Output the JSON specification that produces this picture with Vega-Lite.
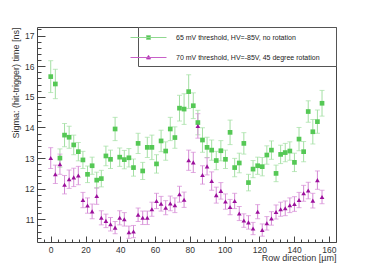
{
  "$schema": "https://vega.github.io/schema/vega-lite/v6.json",
  "width": 299,
  "height": 215,
  "autosize": "none",
  "padding": {"left": 37, "top": 27, "right": 38, "bottom": 27},
  "background": "white",
  "config": {"view": {"stroke": "#444", "strokeWidth": 1}, "font": "Liberation Sans"},
  "data": {"values": [
      {"s": "A", "x": 0, "y": 15.66, "e": 0.52}, {"s": "A", "x": 2.65, "y": 15.42, "e": 0.48}, {"s": "A", "x": 5.29, "y": 13.0, "e": 0.3},
      {"s": "A", "x": 7.94, "y": 13.75, "e": 0.38}, {"s": "A", "x": 10.58, "y": 13.68, "e": 0.36}, {"s": "A", "x": 13.23, "y": 13.43, "e": 0.32},
      {"s": "A", "x": 15.87, "y": 13.21, "e": 0.3}, {"s": "A", "x": 18.52, "y": 12.94, "e": 0.28}, {"s": "A", "x": 21.16, "y": 12.47, "e": 0.27},
      {"s": "A", "x": 23.81, "y": 12.75, "e": 0.28}, {"s": "A", "x": 26.45, "y": 12.28, "e": 0.26}, {"s": "A", "x": 29.1, "y": 12.33, "e": 0.27},
      {"s": "A", "x": 31.74, "y": 13.07, "e": 0.32}, {"s": "A", "x": 34.39, "y": 12.96, "e": 0.3}, {"s": "A", "x": 37.03, "y": 13.95, "e": 0.38},
      {"s": "A", "x": 39.68, "y": 13.03, "e": 0.3}, {"s": "A", "x": 42.32, "y": 12.95, "e": 0.3}, {"s": "A", "x": 44.97, "y": 13.01, "e": 0.3},
      {"s": "A", "x": 47.61, "y": 12.69, "e": 0.28}, {"s": "A", "x": 50.26, "y": 13.48, "e": 0.33}, {"s": "A", "x": 52.9, "y": 12.58, "e": 0.28},
      {"s": "A", "x": 55.55, "y": 13.35, "e": 0.33}, {"s": "A", "x": 58.19, "y": 13.35, "e": 0.4}, {"s": "A", "x": 60.84, "y": 12.81, "e": 0.3},
      {"s": "A", "x": 63.48, "y": 13.56, "e": 0.35}, {"s": "A", "x": 66.13, "y": 13.23, "e": 0.3}, {"s": "A", "x": 68.77, "y": 13.95, "e": 0.38},
      {"s": "A", "x": 71.42, "y": 13.67, "e": 0.35}, {"s": "A", "x": 74.06, "y": 14.63, "e": 0.42}, {"s": "A", "x": 76.71, "y": 14.6, "e": 0.5},
      {"s": "A", "x": 79.35, "y": 15.17, "e": 0.55}, {"s": "A", "x": 82.0, "y": 14.71, "e": 0.42}, {"s": "A", "x": 84.64, "y": 14.16, "e": 0.4},
      {"s": "A", "x": 87.29, "y": 13.59, "e": 0.4}, {"s": "A", "x": 89.93, "y": 13.35, "e": 0.33}, {"s": "A", "x": 92.58, "y": 13.26, "e": 0.33},
      {"s": "A", "x": 95.22, "y": 12.92, "e": 0.3}, {"s": "A", "x": 97.87, "y": 13.24, "e": 0.33}, {"s": "A", "x": 100.51, "y": 12.96, "e": 0.3},
      {"s": "A", "x": 103.16, "y": 13.84, "e": 0.4}, {"s": "A", "x": 105.8, "y": 12.69, "e": 0.3}, {"s": "A", "x": 108.45, "y": 12.84, "e": 0.32},
      {"s": "A", "x": 111.09, "y": 13.48, "e": 0.35}, {"s": "A", "x": 113.74, "y": 12.2, "e": 0.27}, {"s": "A", "x": 116.38, "y": 12.64, "e": 0.28},
      {"s": "A", "x": 119.03, "y": 12.75, "e": 0.28}, {"s": "A", "x": 121.67, "y": 12.72, "e": 0.3}, {"s": "A", "x": 124.32, "y": 13.1, "e": 0.3},
      {"s": "A", "x": 126.96, "y": 13.26, "e": 0.3}, {"s": "A", "x": 129.61, "y": 12.5, "e": 0.27}, {"s": "A", "x": 132.25, "y": 13.12, "e": 0.3},
      {"s": "A", "x": 134.9, "y": 13.18, "e": 0.3}, {"s": "A", "x": 137.54, "y": 13.23, "e": 0.3}, {"s": "A", "x": 140.19, "y": 12.86, "e": 0.3},
      {"s": "A", "x": 142.83, "y": 13.62, "e": 0.38}, {"s": "A", "x": 145.48, "y": 13.21, "e": 0.33}, {"s": "A", "x": 148.12, "y": 14.52, "e": 0.35},
      {"s": "A", "x": 150.77, "y": 13.86, "e": 0.4}, {"s": "A", "x": 153.41, "y": 14.19, "e": 0.38}, {"s": "A", "x": 156.06, "y": 14.79, "e": 0.42},
      {"s": "B", "x": 0, "y": 13.0, "e": 0.34}, {"s": "B", "x": 2.65, "y": 12.47, "e": 0.3}, {"s": "B", "x": 5.29, "y": 12.8, "e": 0.33},
      {"s": "B", "x": 7.94, "y": 12.13, "e": 0.3}, {"s": "B", "x": 10.58, "y": 12.31, "e": 0.3}, {"s": "B", "x": 13.23, "y": 12.37, "e": 0.3},
      {"s": "B", "x": 15.87, "y": 12.43, "e": 0.3}, {"s": "B", "x": 18.52, "y": 11.63, "e": 0.25}, {"s": "B", "x": 21.16, "y": 11.45, "e": 0.25},
      {"s": "B", "x": 23.81, "y": 11.26, "e": 0.24}, {"s": "B", "x": 26.45, "y": 11.76, "e": 0.27}, {"s": "B", "x": 29.1, "y": 11.05, "e": 0.23},
      {"s": "B", "x": 31.74, "y": 10.95, "e": 0.22}, {"s": "B", "x": 34.39, "y": 10.84, "e": 0.22}, {"s": "B", "x": 37.03, "y": 10.73, "e": 0.2},
      {"s": "B", "x": 39.68, "y": 11.05, "e": 0.23}, {"s": "B", "x": 42.32, "y": 11.0, "e": 0.22}, {"s": "B", "x": 44.97, "y": 10.58, "e": 0.2},
      {"s": "B", "x": 47.61, "y": 10.6, "e": 0.2}, {"s": "B", "x": 50.26, "y": 11.15, "e": 0.22}, {"s": "B", "x": 52.9, "y": 11.05, "e": 0.22},
      {"s": "B", "x": 55.55, "y": 11.05, "e": 0.22}, {"s": "B", "x": 58.19, "y": 11.33, "e": 0.23}, {"s": "B", "x": 60.84, "y": 11.6, "e": 0.25},
      {"s": "B", "x": 63.48, "y": 11.51, "e": 0.24}, {"s": "B", "x": 66.13, "y": 11.38, "e": 0.23}, {"s": "B", "x": 68.77, "y": 11.52, "e": 0.24},
      {"s": "B", "x": 71.42, "y": 11.46, "e": 0.24}, {"s": "B", "x": 74.06, "y": 11.82, "e": 0.26}, {"s": "B", "x": 76.71, "y": 11.64, "e": 0.25},
      {"s": "B", "x": 79.35, "y": 12.93, "e": 0.33}, {"s": "B", "x": 82.0, "y": 12.86, "e": 0.33}, {"s": "B", "x": 84.64, "y": 14.05, "e": 0.4},
      {"s": "B", "x": 87.29, "y": 12.45, "e": 0.3}, {"s": "B", "x": 89.93, "y": 12.73, "e": 0.28}, {"s": "B", "x": 92.58, "y": 12.25, "e": 0.3},
      {"s": "B", "x": 95.22, "y": 11.79, "e": 0.26}, {"s": "B", "x": 97.87, "y": 11.93, "e": 0.27}, {"s": "B", "x": 100.51, "y": 11.58, "e": 0.25},
      {"s": "B", "x": 103.16, "y": 11.4, "e": 0.25}, {"s": "B", "x": 105.8, "y": 11.6, "e": 0.25}, {"s": "B", "x": 108.45, "y": 11.19, "e": 0.23},
      {"s": "B", "x": 111.09, "y": 10.96, "e": 0.22}, {"s": "B", "x": 113.74, "y": 10.9, "e": 0.22}, {"s": "B", "x": 116.38, "y": 10.7, "e": 0.2},
      {"s": "B", "x": 119.03, "y": 11.25, "e": 0.23}, {"s": "B", "x": 121.67, "y": 10.65, "e": 0.2}, {"s": "B", "x": 124.32, "y": 10.87, "e": 0.22},
      {"s": "B", "x": 126.96, "y": 11.03, "e": 0.22}, {"s": "B", "x": 129.61, "y": 11.24, "e": 0.23}, {"s": "B", "x": 132.25, "y": 11.33, "e": 0.23},
      {"s": "B", "x": 134.9, "y": 11.36, "e": 0.24}, {"s": "B", "x": 137.54, "y": 11.46, "e": 0.24}, {"s": "B", "x": 140.19, "y": 11.5, "e": 0.24},
      {"s": "B", "x": 142.83, "y": 11.63, "e": 0.25}, {"s": "B", "x": 145.48, "y": 11.85, "e": 0.26}, {"s": "B", "x": 148.12, "y": 11.94, "e": 0.27},
      {"s": "B", "x": 150.77, "y": 11.61, "e": 0.24}, {"s": "B", "x": 153.41, "y": 12.28, "e": 0.3}, {"s": "B", "x": 156.06, "y": 11.73, "e": 0.22}
  ]},
  "layer": [
    {
      "mark": {"type": "errorbar", "ticks": true, "thickness": 1},
      "encoding": {
        "x": {"field": "x", "type": "quantitative", "scale": {"domain": [-7.9, 164.1], "nice": false, "zero": false},
          "axis": {"orient": "bottom", "values": [-4, 4, 8, 12, 16, 24, 28, 32, 36, 44, 48, 52, 56, 64, 68, 72, 76, 84, 88, 92, 96, 104, 108, 112, 116, 124, 128, 132, 136, 144, 148, 152, 156, 164], "tickSize": -3, "labels": false, "domain": false, "grid": false, "title": null, "tickColor": "#444"}},
        "y": {"field": "y", "type": "quantitative", "scale": {"domain": [10.26, 17.28], "nice": false, "zero": false},
          "axis": {"orient": "left", "values": [10.4, 10.6, 10.8, 11.2, 11.4, 11.6, 11.8, 12.2, 12.4, 12.6, 12.8, 13.2, 13.4, 13.6, 13.8, 14.2, 14.4, 14.6, 14.8, 15.2, 15.4, 15.6, 15.8, 16.2, 16.4, 16.6, 16.8, 17.2], "tickSize": -4, "labels": false, "domain": false, "grid": false, "title": null, "tickColor": "#444"}},
        "yError": {"field": "e"},
        "color": {"field": "s", "type": "nominal", "scale": {"domain": ["A", "B"], "range": ["#a3dfa3", "#d58ad5"]}, "legend": null}
      }
    },
    {
      "mark": {"type": "point", "filled": true, "opacity": 1, "size": 22},
      "encoding": {
        "x": {"field": "x", "type": "quantitative",
          "axis": {"orient": "bottom", "values": [0, 20, 40, 60, 80, 100, 120, 140, 160], "tickSize": -6, "labelPadding": 9, "domain": false, "grid": false, "title": "Row direction [µm]", "titleAnchor": "end", "titleFontSize": 9, "titleFontWeight": "normal", "titleColor": "#333", "titlePadding": 0, "labelFontSize": 8.5, "labelColor": "#333", "tickColor": "#444", "labelFlush": false}},
        "y": {"field": "y", "type": "quantitative",
          "axis": {"orient": "left", "values": [11, 12, 13, 14, 15, 16, 17], "tickSize": -8, "labelPadding": 11, "domain": false, "grid": false, "title": "Sigma: (hit-trigger) time [ns]", "titleAnchor": "end", "titleFontSize": 9, "titleFontWeight": "normal", "titleColor": "#333", "titlePadding": 4, "labelFontSize": 8.5, "labelColor": "#333", "tickColor": "#444", "labelFlush": false}},
        "shape": {"field": "s", "type": "nominal", "scale": {"domain": ["A", "B"], "range": ["square", "triangle-up"]}, "legend": null},
        "color": {"field": "s", "type": "nominal", "scale": {"domain": ["A", "B"], "range": ["#55c855", "#9c109c"]},
          "legend": {
            "orient": "top-right", "offset": 0, "title": null, "padding": 5, "strokeColor": "#555", "fillColor": "white",
            "labelFontSize": 7, "labelColor": "#222", "labelFont": "Liberation Sans", "rowPadding": 10, "symbolSize": 100, "labelOffset": 22, "labelLimit": 300,
            "symbolType": {"expr": "datum.value === 'A' ? 'M-4.4,0M36,0M-3.6,0H3.6M-0.4,-0.4H0.4V0.4H-0.4Z' : 'M-4.4,0M36,0M-3.6,0H3.6M0,-0.45L0.42,0.3H-0.42Z'"},
            "symbolStrokeColor": {"expr": "datum.value === 'A' ? '#8fd88f' : '#c860c8'"},
            "symbolStrokeWidth": 1,
            "labelExpr": "datum.value === 'A' ? '65 mV threshold, HV=-85V, no rotation' : '70 mV threshold, HV=-85V, 45 degree rotation'"
          }}
      }
    }
  ],
  "resolve": {"axis": {"x": "independent", "y": "independent"}, "scale": {"color": "independent"}}
}
